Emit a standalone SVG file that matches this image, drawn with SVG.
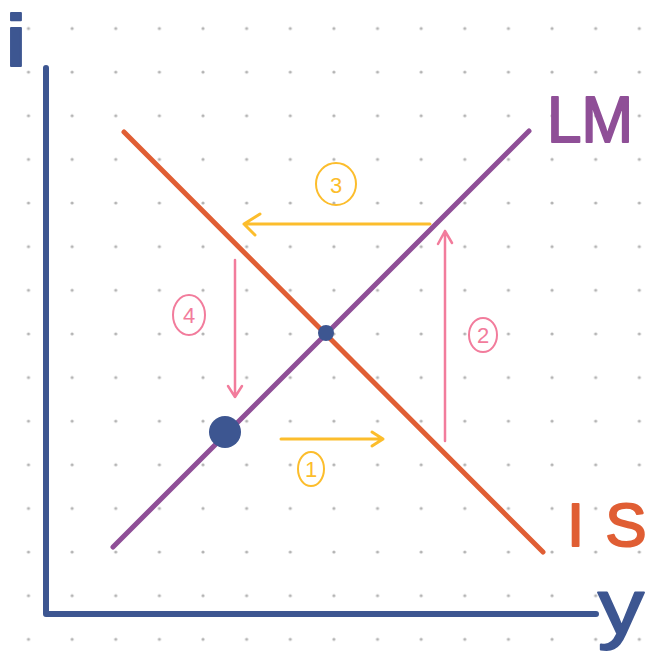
<svg xmlns="http://www.w3.org/2000/svg" width="648" height="652" viewBox="0 0 648 652">
<defs>
<style>
.ax{stroke:#3d5691;stroke-width:6;fill:none;stroke-linecap:round;stroke-linejoin:round}
.lm{stroke:#8f4f97;stroke-width:5;stroke-linecap:round;fill:none}
.is{stroke:#e05e34;stroke-width:5;stroke-linecap:round;fill:none}
.yel{stroke:#fcbd2c;stroke-width:3;fill:none;stroke-linecap:round;stroke-linejoin:round}
.pk{stroke:#f27c9c;stroke-width:2.5;fill:none;stroke-linecap:round;stroke-linejoin:round}
.lbl{font-family:"Liberation Sans","DejaVu Sans",sans-serif;stroke-width:2;stroke-linejoin:round}
.num{font-family:"Liberation Sans","DejaVu Sans",sans-serif;font-size:22px;text-anchor:middle}
</style>
<pattern id="grid" x="28.5" y="28.5" width="43.63" height="43.63" patternUnits="userSpaceOnUse">
<circle cx="0" cy="0" r="1.6" fill="#b3b3b3"/>
<circle cx="43.63" cy="0" r="1.6" fill="#b3b3b3"/>
<circle cx="0" cy="43.63" r="1.6" fill="#b3b3b3"/>
<circle cx="43.63" cy="43.63" r="1.6" fill="#b3b3b3"/>
</pattern>
</defs>
<rect width="648" height="652" fill="#ffffff"/>
<rect x="0" y="0" width="648" height="652" fill="url(#grid)"/>

<g id="axes">
<path class="ax" d="M46,68 L46,614 L596,614"/>
<text class="lbl" x="6" y="66" font-size="72" font-weight="bold" fill="#3d5691" stroke="#3d5691">i</text>
<text class="lbl" x="598" y="634" font-size="78" fill="#3d5691" stroke="#3d5691" textLength="46" lengthAdjust="spacingAndGlyphs">y</text>
</g>

<g id="LM">
<line class="lm" x1="113" y1="547" x2="529" y2="131"/>
<text class="lbl" x="547" y="142" font-size="64" fill="#8f4f97" stroke="#8f4f97" textLength="86" lengthAdjust="spacingAndGlyphs">LM</text>
</g>

<g id="IS">
<line class="is" x1="124" y1="132" x2="543" y2="552"/>
<text class="lbl" x="567" y="546" font-size="62" fill="#e05e34" stroke="#e05e34">I<tspan dx="21">S</tspan></text>
</g>

<g id="equilibrium">
<circle cx="326" cy="333" r="8" fill="#3d5691"/>
</g>
<g id="start">
<circle cx="225" cy="432" r="16" fill="#3d5691"/>
</g>

<g id="connectors">
<g id="arrow1">
<path class="yel" d="M281,439 L383,439 M372,432 L383,439 L372,446"/>
</g>
<g id="arrow2">
<path class="pk" d="M445,441 L445,231 M438,244 L445,231 L452,243"/>
</g>
<g id="arrow3">
<path class="yel" d="M430,224 L244,224 M260,214 L244,224 L255,235"/>
</g>
<g id="arrow4">
<path class="pk" d="M235,260 L235,397 M228,386 L235,397 L242,386"/>
</g>
</g>

<g id="label1">
<ellipse cx="311" cy="469" rx="13" ry="17" fill="none" stroke="#fcbd2c" stroke-width="2"/>
<text class="num" x="311" y="477" fill="#fcbd2c">1</text>
</g>
<g id="label2">
<ellipse cx="483" cy="335" rx="14" ry="17" fill="none" stroke="#f27c9c" stroke-width="2"/>
<text class="num" x="483" y="343" fill="#f27c9c">2</text>
</g>
<g id="label3">
<ellipse cx="336" cy="184" rx="20" ry="21" fill="none" stroke="#fcbd2c" stroke-width="2"/>
<text class="num" x="336" y="193" fill="#fcbd2c">3</text>
</g>
<g id="label4">
<ellipse cx="189" cy="315" rx="16" ry="20" fill="none" stroke="#f27c9c" stroke-width="2"/>
<text class="num" x="189" y="323" fill="#f27c9c">4</text>
</g>
</svg>
